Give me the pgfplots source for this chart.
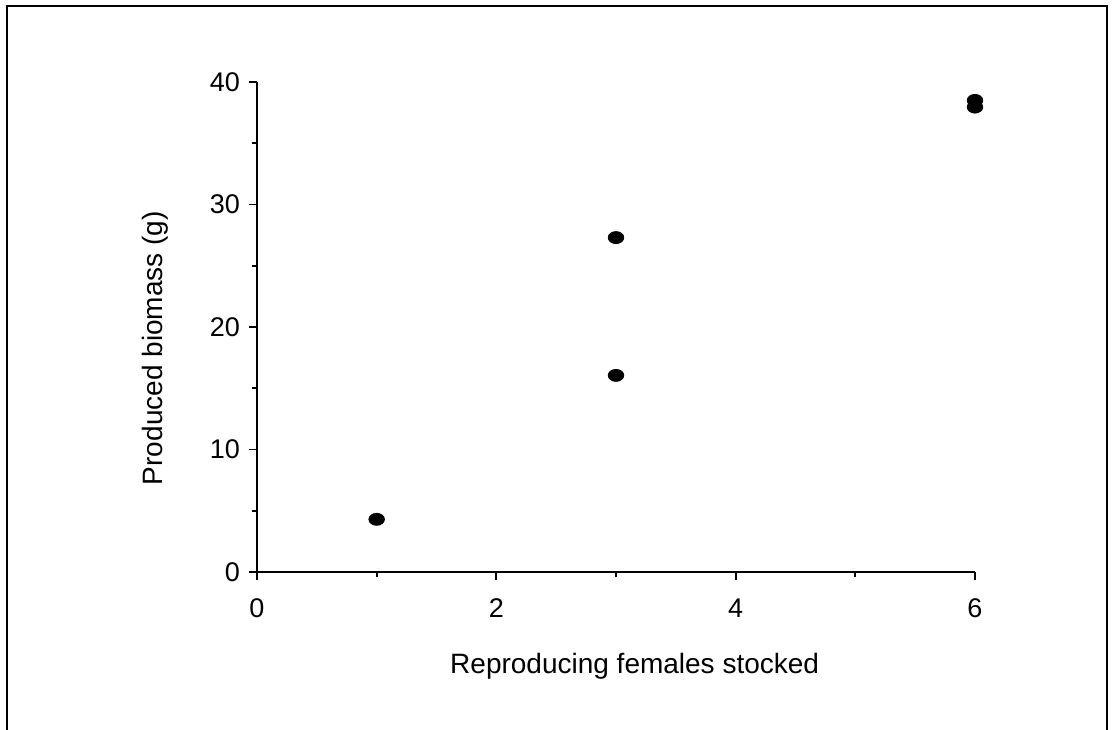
\documentclass[border=0pt]{standalone}
\usepackage{pgfplots}
\pgfplotsset{compat=1.18}
\usepackage{fontspec}
\setmainfont{Liberation Sans}
\begin{document}
\begin{tikzpicture}
\useasboundingbox (-128.5pt,-78.5pt) rectangle (428.5pt,286pt);
\draw[line width=1.3pt] (-125pt,-90pt) -- (-125pt,283pt) -- (425pt,283pt) -- (425pt,-90pt);
\begin{axis}[
  at={(0pt,0pt)}, anchor=origin,
  scale only axis,
  width=359pt, height=245pt,
  xmin=0, xmax=6, ymin=0, ymax=40,
  axis lines=left,
  axis line style={-, line width=1pt},
  tick align=outside,
  major tick length=4pt,
  minor tick length=2.5pt,
  every tick/.style={line width=0.9pt, black},
  xtick={0,2,4,6}, ytick={0,10,20,30,40},
  minor x tick num=1, minor y tick num=1,
  font=\fontsize{13.5pt}{16pt}\selectfont,
  /pgf/number format/assume math mode=true,
  xticklabel style={yshift=-6pt},
  yticklabel style={xshift=-1pt},
  xlabel={Reproducing females stocked},
  ylabel={Produced biomass (g)},
  xlabel style={font=\fontsize{14pt}{16pt}\selectfont, at={(axis description cs:0.526,0)}, anchor=center, yshift=-47pt},
  ylabel style={font=\fontsize{14pt}{16pt}\selectfont, at={(axis description cs:-0.142,0.457)}, anchor=center},
  clip=false,
]
\addplot[only marks, mark=*, mark size=3pt, mark options={xscale=1.3, fill=black, draw=black}]
coordinates {(1,4.3) (3,27.3) (3,16.05) (6,38.5) (6,37.95)};
\end{axis}
\end{tikzpicture}
\end{document}
